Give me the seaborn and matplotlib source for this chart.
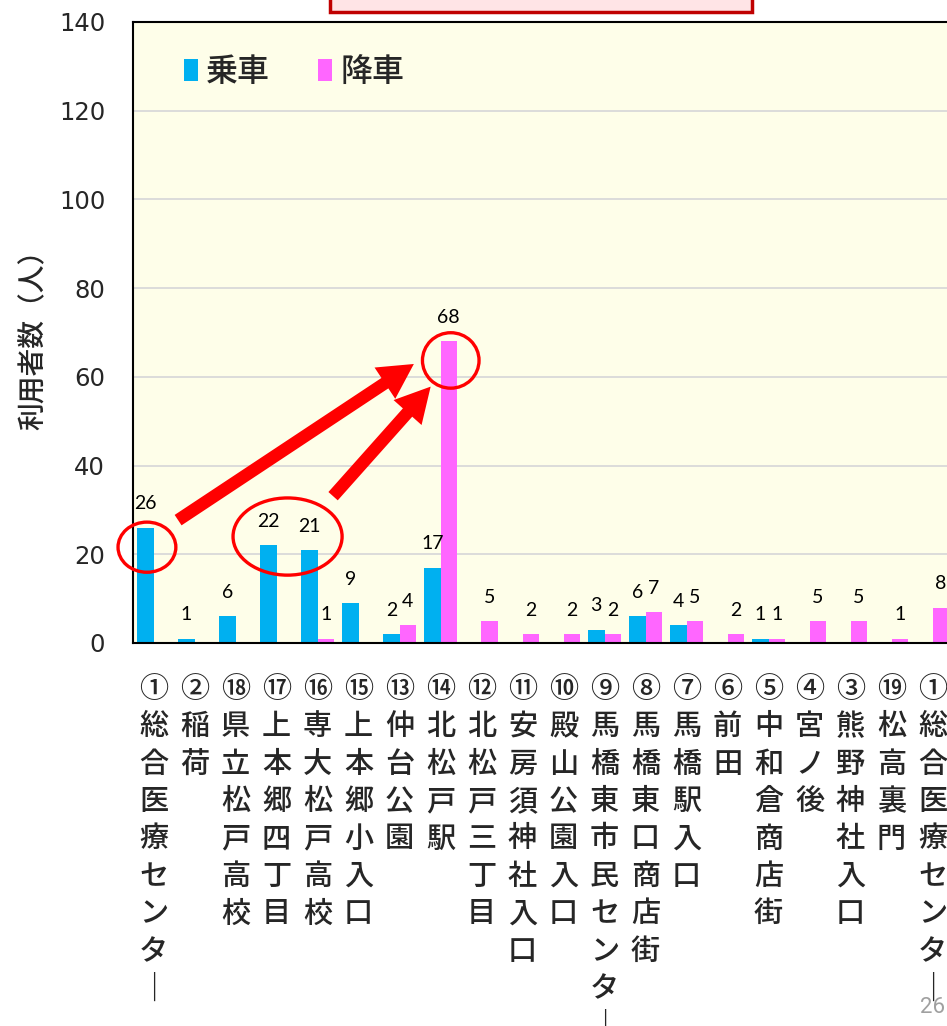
import numpy as np
import pandas as pd
import matplotlib
matplotlib.use('Agg')
import matplotlib.pyplot as plt
import seaborn as sns
from matplotlib.patches import Ellipse, Rectangle, FancyArrowPatch

# バス停（運行順）
stops = [
    "①総合医療センター", "②稲荷", "⑱県立松戸高校", "⑰上本郷四丁目", "⑯専大松戸高校",
    "⑮上本郷小入口", "⑬仲台公園", "⑭北松戸駅", "⑫北松戸三丁目", "⑪安房須神社入口",
    "⑩殿山公園入口", "⑨馬橋東市民センター", "⑧馬橋東口商店街", "⑦馬橋駅入口", "⑥前田",
    "⑤中和倉商店街", "④宮ノ後", "③熊野神社入口", "⑲松高裏門", "①総合医療センター",
]
boarding = [26, 1, 6, 22, 21, 9, 2, 17, 0, 0, 0, 3, 6, 4, 0, 1, 0, 0, 0, 0]
alighting = [0, 0, 0, 0, 1, 0, 4, 68, 5, 2, 2, 2, 7, 5, 2, 1, 5, 5, 1, 8]
series_names = ["乗車", "降車"]
y_ticks = [0, 20, 40, 60, 80, 100, 120, 140]

BLUE = "#00B0F0"
PINK = "#FF66FF"
RED = "#FF0000"

sns.set_style("white")
plt.rcParams['font.family'] = ['Noto Sans CJK JP', 'DejaVu Sans']

n = len(stops)
df = pd.DataFrame({
    "pos": list(range(n)) * 2,
    "value": boarding + alighting,
    "kind": [series_names[0]] * n + [series_names[1]] * n,
})

W, H = 947, 1026
fig = plt.figure(figsize=(W / 100, H / 100), dpi=100)
fig.patch.set_facecolor("white")
# 軸は右端が画面外にはみ出す（元スライドの切り抜き）
ax = fig.add_axes([133 / W, 383 / H, 820 / W, 621 / H])
ax.set_facecolor("#FEFEE9")

sns.barplot(data=df, x="pos", y="value", hue="kind", order=list(range(n)),
            hue_order=series_names, palette=[BLUE, PINK], saturation=1,
            width=0.8, linewidth=0, ax=ax)

for cont, vals in zip(ax.containers, [boarding, alighting]):
    ax.bar_label(cont, labels=[str(v) if v else "" for v in vals], padding=11,
                 fontsize=14, family="Lato", color="black")

ax.set_xlim(-0.5, n - 0.5)
ax.set_ylim(0, 140)
ax.set_yticks(y_ticks)
ax.set_yticklabels([str(t) for t in y_ticks], fontsize=17.5, family="DejaVu Sans")
ax.tick_params(axis="y", length=0, pad=20)

vert = [s.replace("ー", "｜") for s in stops]
ax.set_xticks(range(n))
ax.set_xticklabels(["\n".join(s) for s in vert], fontsize=21, fontweight="medium",
                   linespacing=1.27)
ax.set_xticks(np.arange(-0.5, n, 1), minor=True)
ax.tick_params(axis="x", which="major", length=0, pad=22)
ax.tick_params(axis="x", which="minor", length=9, width=1.6, direction="out", color="black")
ax.set_xlabel("")
ax.set_ylabel("利用者数（人）", fontsize=20, fontweight="medium", labelpad=8)

ax.yaxis.grid(True, color="#D9D9D9", linewidth=1.3)
ax.set_axisbelow(True)
for side in ["left", "top", "bottom"]:
    ax.spines[side].set_color("black")
    ax.spines[side].set_linewidth(1.5)
ax.spines["right"].set_visible(False)

leg = ax.legend(loc="upper left", bbox_to_anchor=(0.062, 0.945), frameon=False,
                prop={"size": 23, "weight": "medium"}, handlelength=0.45, handleheight=0.65,
                handletextpad=0.25, columnspacing=1.5, ncol=2, borderpad=0, borderaxespad=0)

# 赤い注記（丸と矢印）
for cx, cy, w, h in [(-0.16, 21.6, 1.41, 11.3), (3.27, 24.0, 2.66, 17.4), (7.25, 63.7, 1.38, 12.5)]:
    ax.add_patch(Ellipse((cx, cy), w, h, fill=False, ec=RED, lw=2.4, zorder=5, clip_on=False))

arrow_style = "simple,head_length=25,head_width=27,tail_width=9"
for (x0, y0), (x1, y1) in [((0.6, 27.7), (6.35, 62.9)), ((4.38, 33.1), (6.76, 57.8))]:
    ax.add_patch(FancyArrowPatch((x0, y0), (x1, y1), arrowstyle=arrow_style,
                                 mutation_scale=1, shrinkA=0, shrinkB=0,
                                 color=RED, lw=0, zorder=6))

# 上部のタイトル枠（切れている）
fig.add_artist(Rectangle((330 / W, 1 - 12 / H), 422 / W, 60 / H,
                         transform=fig.transFigure, fc="#FFE4E6", ec="#C00000", lw=2.5))

fig.text(945 / W, 1 - 1013 / H, "26", ha="right", va="baseline",
         fontsize=16, color="#A0A0A0", family="Roboto")

fig.savefig("out.png", dpi=100)
